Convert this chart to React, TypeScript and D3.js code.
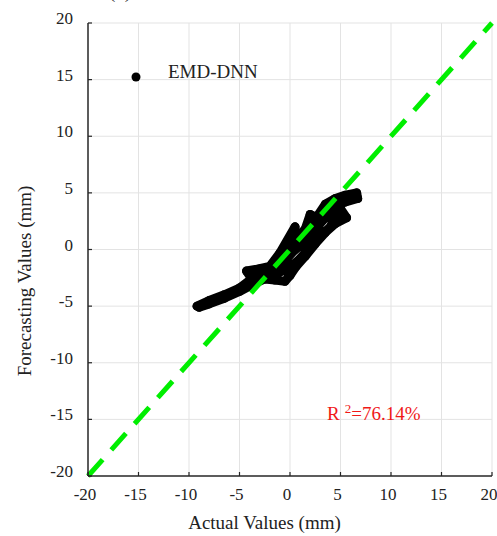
import React from "react";
import * as d3 from "d3";

const xTicks = [-20, -15, -10, -5, 0, 5, 10, 15, 20];
const yTicks = [-20, -15, -10, -5, 0, 5, 10, 15, 20];

// trajectory of (actual, forecast) pairs
const actual = [
  -9.2, -8.0, -6.5, -5.0, -3.8, -4.3, -3.0, -2.0, -1.0, 0.5, 0.3, 1.2, 2.0, 2.6, 3.5, 4.5, 5.5, 6.6, 6.7, 5.5,
  4.5, 3.8, 5.0, 5.6, 4.5, 3.5, 2.5, 1.5, 0.6, 0.0, -0.5, -1.5, -2.5, -3.5, -5.0, -6.5, -8.0, -9.0,
  -7.0, -5.0, -2.8, -1.5, -0.5, 0.5, 1.5, 2.5, 3.5, 4.2, 5.0,
  4.0, 3.0, 2.0, 1.0, 0.0, -1.5,
  -0.5, 0.5, 1.5, 2.5, 3.5,
  2.8, 1.8, 0.8, -0.2, -1.2, -2.2, -3.2,
];
const forecast = [
  -5.0, -4.5, -4.0, -3.4, -2.6, -1.9, -1.7, -1.5, -0.3, 2.0, 0.6, 1.0, 3.1, 2.8, 4.0, 4.5, 4.8, 5.0, 4.5, 4.2,
  3.9, 3.4, 3.6, 2.8, 2.3, 1.5, 0.5, -0.6, -1.5, -2.3, -2.8, -2.7, -2.6, -3.0, -3.7, -4.3, -4.8, -5.1,
  -4.4, -3.6, -2.2, -1.8, -1.0, 0.0, 0.8, 1.8, 2.8, 3.4, 3.8,
  2.0, 1.2, 0.2, -0.8, -1.6, -2.2,
  0.0, 0.8, 1.8, 2.5, 3.2,
  2.0, 1.1, 0.2, -0.6, -1.2, -1.9, -2.2,
];

const legendLabel = "EMD-DNN";
const r2Text = "=76.14%";

export default function App() {
  const W = 497, H = 536;
  const x = d3.scaleLinear().domain([-20, 20]).range([88, 492]);
  const y = d3.scaleLinear().domain([-20, 20]).range([476, 23]);
  const pts = actual.map((a, i) => [a, forecast[i]] as [number, number]);
  const line = d3.line<[number, number]>().x(d => x(d[0])).y(d => y(d[1]));
  const font = "'Times New Roman', 'Liberation Serif', Tinos, 'DejaVu Serif', serif";
  const axisColor = "#262626";
  const ts = { fontFamily: font };
  return (
    <svg width={W} height={H} style={{ position: "absolute", left: 0, top: 0, background: "#fff", fontFamily: font }}>
      <text x={120} y={-2} fontSize={19} textAnchor="middle" fill="#222" style={ts}>(b)</text>
      {xTicks.filter(t => t !== -20).map(t => (
        <line key={"gx" + t} x1={x(t)} x2={x(t)} y1={y(-20)} y2={y(20)} stroke="#e3e3e3" strokeWidth={1} />
      ))}
      {yTicks.filter(t => t !== -20).map(t => (
        <line key={"gy" + t} x1={x(-20)} x2={x(20)} y1={y(t)} y2={y(t)} stroke="#e3e3e3" strokeWidth={1} />
      ))}
      {/* data */}
      <path d={line(pts) || ""} fill="none" stroke="#000" strokeWidth={9} strokeLinejoin="round" strokeLinecap="round" />
      {pts.map((p, i) => (
        <circle key={i} cx={x(p[0])} cy={y(p[1])} r={4.5} fill="#000" />
      ))}
      {/* 1:1 line */}
      <line x1={x(-20)} y1={y(-20)} x2={x(20)} y2={y(20)} stroke="#00ee00" strokeWidth={5} strokeDasharray="22,13" />
      {/* axes */}
      <line x1={x(-20)} x2={x(20)} y1={y(-20)} y2={y(-20)} stroke={axisColor} strokeWidth={1.5} />
      <line x1={x(-20)} x2={x(-20)} y1={y(-20)} y2={y(20)} stroke={axisColor} strokeWidth={1.5} />
      {xTicks.map(t => (
        <g key={"xt" + t}>
          <line x1={x(t)} x2={x(t)} y1={y(-20)} y2={y(-20) - 4} stroke={axisColor} strokeWidth={1.2} />
          <text x={x(t) - 3} y={500} fontSize={17} textAnchor="middle" fill="#222" style={ts}>{t}</text>
        </g>
      ))}
      {yTicks.map(t => (
        <g key={"yt" + t}>
          <line x1={x(-20)} x2={x(-20) + 4} y1={y(t)} y2={y(t)} stroke={axisColor} strokeWidth={1.2} />
          <text x={73} y={y(t) + 1} fontSize={17} textAnchor="end" fill="#222" style={ts}>{t}</text>
        </g>
      ))}
      <text x={264.5} y={529} fontSize={19} textAnchor="middle" fill="#222" style={ts}>Actual Values (mm)</text>
      <text transform="translate(31,281) rotate(-90)" fontSize={19} textAnchor="middle" fill="#222" style={ts}>Forecasting Values (mm)</text>
      {/* legend */}
      <circle cx={136} cy={77} r={4.5} fill="#000" />
      <text x={168} y={78} fontSize={19} fill="#222" style={ts}>{legendLabel}</text>
      {/* R2 */}
      <text x={327} y={420} fontSize={19} fill="#f01818" style={ts}>
        R<tspan dx={5} dy={-7} fontSize={13}>2</tspan><tspan dy={7}>{r2Text}</tspan>
      </text>
    </svg>
  );
}
